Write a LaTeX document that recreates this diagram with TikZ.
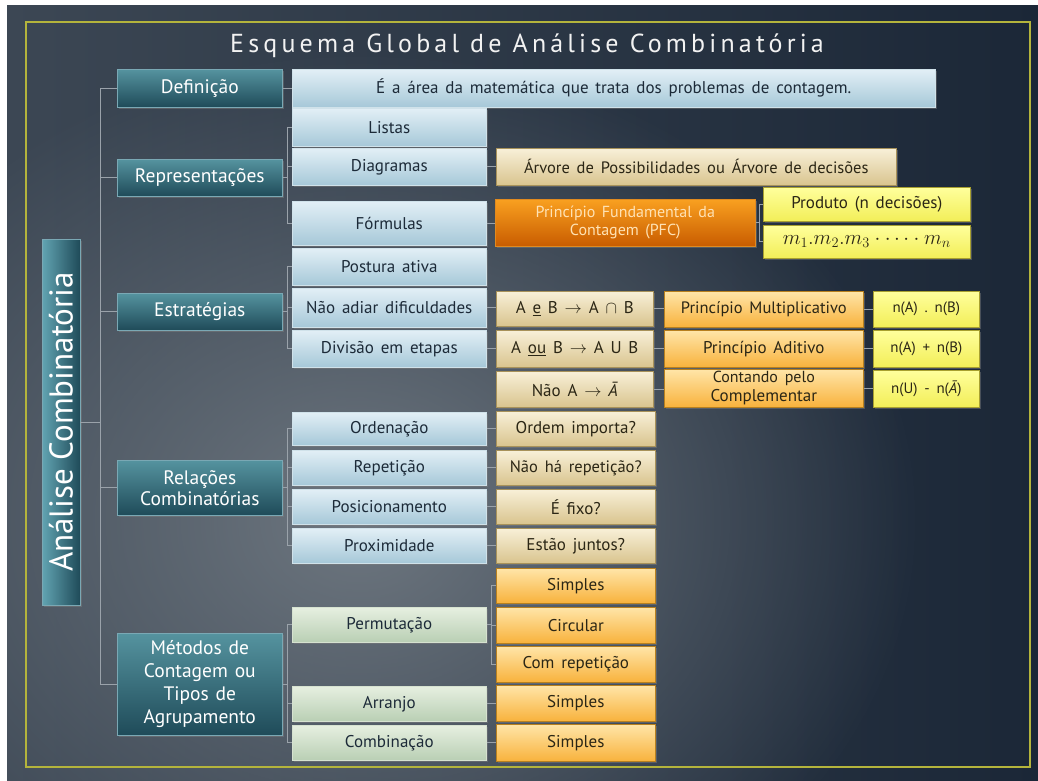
\documentclass[tikz,border=0pt]{standalone}
\usepackage{fontspec}
\usepackage{graphicx}
\setmainfont{PT Sans}
\newfontfamily\titlefont[LetterSpace=16]{PT Sans}
\usetikzlibrary{shadows,fadings}
\definecolor{bgL}{HTML}{3C4754}
\definecolor{bgR}{HTML}{1B2737}
\definecolor{bgGlow}{HTML}{6E7780}
\definecolor{framec}{HTML}{B4B43C}
\definecolor{connc}{HTML}{9AA2AA}
\definecolor{tealT}{HTML}{55939F}
\definecolor{tealB}{HTML}{1F4B59}
\definecolor{tealBd}{HTML}{7AA8B4}
\definecolor{tealL}{HTML}{62A4B2}
\definecolor{blueT}{HTML}{E2EFF6}
\definecolor{blueB}{HTML}{A6C8D8}
\definecolor{blueBd}{HTML}{D0E2EA}
\definecolor{greenT}{HTML}{E6EFE0}
\definecolor{greenB}{HTML}{B9CFB4}
\definecolor{greenBd}{HTML}{D6E2D0}
\definecolor{tanT}{HTML}{F8F0D8}
\definecolor{tanB}{HTML}{D9C48E}
\definecolor{tanBd}{HTML}{A8925A}
\definecolor{oraT}{HTML}{FFE5A8}
\definecolor{oraB}{HTML}{F8B23C}
\definecolor{oraBd}{HTML}{B8801E}
\definecolor{pfcT}{HTML}{F9A020}
\definecolor{pfcB}{HTML}{C85C00}
\definecolor{pfcBd}{HTML}{E08A20}
\definecolor{pfcText}{HTML}{FFE2B4}
\definecolor{yelT}{HTML}{FFFF9C}
\definecolor{yelB}{HTML}{F2EE58}
\definecolor{yelBd}{HTML}{A8A030}
\definecolor{navytext}{HTML}{1C2A38}
\definecolor{browntext}{HTML}{2B2615}
\definecolor{titlec}{HTML}{F2F2F2}
\tikzfading[name=glow, inner color=transparent!0, outer color=transparent!100]
\newcommand\mybox[7]{\node[#6, anchor=north west, minimum width={(#4-#2)*1pt}, minimum height={(#5-#3)*1pt}, inner sep=0pt] (#1) at (#2,#3) {#7};}
\newcommand\wsp[1]{\spaceskip=#1em plus 0.1em minus 0.1em\relax}
\newcommand\boxfont{\fontsize{17}{19}\selectfont\wsp{0.4}}
\newcommand\lvfont{\fontsize{19.5}{23}\selectfont\wsp{0.35}}
\newcommand\pfcfont{\fontsize{16}{18}\selectfont\wsp{0.4}}
\begin{document}
\begin{tikzpicture}[x=1pt,y=-1pt,
  conn/.style={draw=connc, line width=0.8pt},
  shd/.style={drop shadow={opacity=0.45,shadow xshift=1.5pt,shadow yshift=-2pt}},
  lvone/.style={shd, draw=tealBd, line width=0.6pt, top color=tealT, bottom color=tealB, text=white, font=\lvfont, align=center},
  bluebox/.style={shd, draw=blueBd, line width=0.6pt, top color=blueT, bottom color=blueB, text=navytext, font=\boxfont},
  greenbox/.style={shd, draw=greenBd, line width=0.6pt, top color=greenT, bottom color=greenB, text=navytext, font=\boxfont},
  tanbox/.style={shd, draw=tanBd, line width=0.6pt, top color=tanT, bottom color=tanB, text=browntext, font=\boxfont},
  orabox/.style={shd, draw=oraBd, line width=0.6pt, top color=oraT, bottom color=oraB, text=browntext, font=\boxfont, align=center},
  pfcbox/.style={shd, draw=pfcBd, line width=0.6pt, top color=pfcT, bottom color=pfcB, text=pfcText, font=\pfcfont, align=center},
  yelbox/.style={shd, draw=yelBd, line width=0.6pt, top color=yelT, bottom color=yelB, text=browntext, font=\boxfont}
]
\useasboundingbox (0,0) rectangle (1038,780);
\fill[white] (0,0) rectangle (1038,780);
\begin{scope}
  \clip (7,5) rectangle (1038,780);
  \fill[left color=bgL, right color=bgR] (7,5) rectangle (1038,780);
  \fill[bgGlow, path fading=glow] (360,520) ellipse (560 and 470);
\end{scope}
\draw[framec, line width=1.3pt] (26,22) rectangle (1030,767);

\node[text=titlec, font=\titlefont\fontsize{26}{28}\selectfont] (title) at (527,46) {Esquema Global de Análise Combinatória};

% big vertical box
\node[shd, draw=tealBd, line width=0.6pt, left color=tealL, right color=tealB, text=white,
  minimum width=38pt, minimum height=366pt, inner sep=0pt, font=\fontsize{33}{36}\selectfont]
  (ac) at (61,422) {\rotatebox{90}{Análise Combinatória}};

% level 1
\mybox{def}{117}{69}{282}{107}{lvone}{Definição}
\mybox{rep}{117}{159}{282}{196}{lvone}{Representações}
\mybox{est}{117}{293}{282}{330}{lvone}{Estratégias}
\mybox{rel}{117}{460}{282}{515}{lvone}{Relações\\[-2pt]Combinatórias}
\mybox{met}{117}{633}{282}{735}{lvone}{Métodos de\\Contagem ou\\Tipos de\\Agrupamento}

% level 2
\mybox{deftxt}{292}{69}{935}{107}{bluebox}{É a área da matemática que trata dos problemas de contagem.}
\mybox{listas}{292}{108}{486}{146}{bluebox}{Listas}
\mybox{diag}{292}{148}{486}{185}{bluebox}{Diagramas}
\mybox{form}{292}{201}{486}{245}{bluebox}{Fórmulas}
\mybox{post}{292}{248}{486}{285}{bluebox}{Postura ativa}
\mybox{naoadiar}{292}{288}{486}{327}{bluebox}{Não adiar dificuldades}
\mybox{divisao}{292}{330}{486}{367}{bluebox}{Divisão em etapas}
\mybox{orden}{292}{412}{486}{445}{bluebox}{Ordenação}
\mybox{repet}{292}{450}{486}{485}{bluebox}{Repetição}
\mybox{posic}{292}{489}{486}{524}{bluebox}{Posicionamento}
\mybox{proxim}{292}{528}{486}{563}{bluebox}{Proximidade}
\mybox{perm}{292}{607}{486}{642}{greenbox}{Permutação}
\mybox{arr}{292}{686}{486}{721}{greenbox}{Arranjo}
\mybox{comb}{292}{725}{486}{760}{greenbox}{Combinação}

% level 3
\mybox{arvore}{496}{148}{896}{185}{tanbox}{\fontsize{16.5}{19}\selectfont Árvore de Possibilidades ou Árvore de decisões}
\mybox{pfc}{495}{199}{755}{246}{pfcbox}{Princípio Fundamental da\\Contagem (PFC)}
\mybox{produto}{763}{187}{970}{221}{yelbox}{Produto (n decisões)}
\mybox{formula}{763}{225}{970}{258}{yelbox}{\fontsize{22}{23}\selectfont$m_1.m_2.m_3\cdot{\cdots}\cdot m_n$}
\mybox{aeb}{496}{291}{653}{326}{tanbox}{A \underline{e} B $\rightarrow$ A $\cap$ B}
\mybox{aoub}{496}{330}{653}{367}{tanbox}{A \underline{ou} B $\rightarrow$ A U B}
\mybox{naoa}{496}{371}{653}{407}{tanbox}{Não A $\rightarrow$ {\itshape Ā}}
\mybox{pmult}{664}{291}{863}{327}{orabox}{\fontsize{16.5}{19}\selectfont Princípio Multiplicativo}
\mybox{padit}{664}{330}{863}{367}{orabox}{Princípio Aditivo}
\mybox{pcompl}{664}{369}{863}{407}{orabox}{\fontsize{16}{15.5}\selectfont Contando pelo\\Complementar}
\mybox{nab}{873}{291}{979}{327}{yelbox}{\fontsize{15}{16}\selectfont n(A) . n(B)}
\mybox{naplusb}{873}{330}{979}{367}{yelbox}{\fontsize{15}{16}\selectfont n(A) + n(B)}
\mybox{nu}{873}{370}{979}{407}{yelbox}{\fontsize{15}{16}\selectfont n(U) - n({\itshape Ā})}
\mybox{ordimp}{496}{411}{655}{446}{tanbox}{Ordem importa?}
\mybox{naoha}{496}{450}{655}{485}{tanbox}{\fontsize{16.5}{19}\selectfont Não há repetição?}
\mybox{efixo}{496}{489}{655}{524}{tanbox}{É fixo?}
\mybox{estao}{496}{528}{655}{563}{tanbox}{Estão juntos?}
\mybox{simp1}{496}{568}{655}{603}{orabox}{Simples}
\mybox{circ}{496}{607}{655}{643}{orabox}{Circular}
\mybox{comrep}{496}{646}{655}{682}{orabox}{Com repetição}
\mybox{simp2}{496}{685}{655}{721}{orabox}{Simples}
\mybox{simp3}{496}{724}{655}{761}{orabox}{Simples}

% tree
\coordinate (trunk) at (100,422);
\draw[conn] (ac.east) -- (trunk);
\draw[conn] (def.west) -- ++(-17,0) |- (met.west);
\foreach \n in {rep,est,rel} \draw[conn] (\n.west) -- ++(-17,0);
\draw[conn] (def.east) -- (deftxt.west);
% brackets level1 -> level2
\draw[conn] (rep.east) -- ++(5,0);
\draw[conn] (listas.west) -- ++(-5,0) |- (form.west);
\draw[conn] (diag.west) -- ++(-5,0);
\draw[conn] (est.east) -- ++(5,0);
\draw[conn] (post.west) -- ++(-5,0) |- (divisao.west);
\draw[conn] (naoadiar.west) -- ++(-5,0);
\draw[conn] (rel.east) -- ++(5,0);
\draw[conn] (orden.west) -- ++(-5,0) |- (proxim.west);
\foreach \n in {repet,posic} \draw[conn] (\n.west) -- ++(-5,0);
\draw[conn] (met.east) -- ++(5,0);
\draw[conn] (perm.west) -- ++(-5,0) |- (comb.west);
\draw[conn] (arr.west) -- ++(-5,0);
% level2 -> level3
\draw[conn] (diag.east) -- (diag.east -| arvore.west);
\draw[conn] (form.east) -- (form.east -| pfc.west);
\draw[conn] (naoadiar.east) -- (naoadiar.east -| aeb.west);
\draw[conn] (divisao.east) -- (divisao.east -| aoub.west);
\draw[conn] (orden.east) -- (orden.east -| ordimp.west);
\draw[conn] (repet.east) -- (repet.east -| naoha.west);
\draw[conn] (posic.east) -- (posic.east -| efixo.west);
\draw[conn] (proxim.east) -- (proxim.east -| estao.west);
\draw[conn] (arr.east) -- (arr.east -| simp2.west);
\draw[conn] (comb.east) -- (comb.east -| simp3.west);
\draw[conn] (perm.east) -- ++(5,0);
\draw[conn] (simp1.west) -- ++(-5,0) |- (comrep.west);
\draw[conn] (circ.west) -- ++(-5,0);
% pfc bracket
\draw[conn] (pfc.east) -- ++(4,0);
\draw[conn] (produto.west) -- ++(-4,0) |- (formula.west);
% principles
\draw[conn] (aeb.east) -- (aeb.east -| pmult.west);
\draw[conn] (aoub.east) -- (aoub.east -| padit.west);
\draw[conn] (naoa.east) -- (naoa.east -| pcompl.west);
\draw[conn] (pmult.east) -- (pmult.east -| nab.west);
\draw[conn] (padit.east) -- (padit.east -| naplusb.west);
\draw[conn] (pcompl.east) -- (pcompl.east -| nu.west);
\end{tikzpicture}
\end{document}
